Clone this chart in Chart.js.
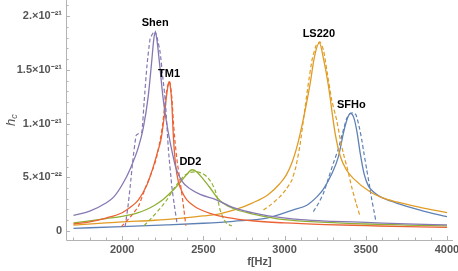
<!DOCTYPE html>
<html>
<head>
<meta charset="utf-8">
<script src="https://cdn.jsdelivr.net/npm/chart.js@4.4.1/dist/chart.umd.min.js"></script>
<style>
    html, body { margin: 0; padding: 0; background: #fff; }
    #wrap { width: 458px; height: 271px; }
</style>
</head>
<body>
<div id="wrap"><canvas id="hcChart"></canvas></div>
<script>
// h_c in units of 1e-22, frequency in Hz
const shenFitF = [1700, 1800, 1900, 1950, 2000, 2050, 2100, 2130, 2160, 2180, 2195, 2203, 2212, 2230, 2250, 2270, 2300, 2330, 2370, 2420, 2480, 2580, 2680, 2800, 2900, 3100, 3300, 3500, 3750, 4000];
const shenFitH = [1.45, 1.85, 2.6, 3.2, 4.3, 5.8, 7.8, 9.6, 12.5, 15.5, 17.9, 18.5, 18.0, 15.6, 12.6, 10.4, 7.9, 5.9, 4.6, 3.9, 3.4, 2.9, 2.2, 1.7, 1.4, 1.05, 0.9, 0.8, 0.66, 0.56];
const shenDataF = [2018, 2035, 2049, 2065, 2086, 2105, 2121, 2135, 2152, 2172, 2193, 2203, 2218, 2234, 2250, 2265, 2285, 2306, 2320, 2337];
const shenDataH = [0.4, 2.2, 4.1, 6.5, 8.9, 9.1, 9.2, 12.0, 15.3, 17.9, 18.5, 18.6, 17.8, 16.6, 14.3, 12.2, 7.5, 4.1, 2.5, 0.8];

const tm1FitF = [1700, 1800, 1900, 2000, 2050, 2100, 2150, 2190, 2215, 2240, 2260, 2275, 2283, 2289, 2296, 2305, 2316, 2330, 2346, 2370, 2398, 2440, 2480, 2550, 2650, 2800, 3000, 3250, 3500, 3750, 4000];
const tm1FitH = [0.65, 0.85, 1.2, 1.7, 2.2, 2.9, 4.2, 5.9, 7.2, 8.6, 10.8, 12.8, 13.6, 13.9, 13.5, 12.0, 8.6, 6.0, 4.6, 3.6, 2.9, 2.35, 2.0, 1.6, 1.25, 0.95, 0.75, 0.6, 0.5, 0.4, 0.34];
const tm1DataF = [1995, 2050, 2100, 2145, 2180, 2208, 2234, 2250, 2265, 2280, 2293, 2306, 2316, 2326, 2340, 2357, 2380, 2392];
const tm1DataH = [0.4, 1.3, 2.3, 4.1, 5.4, 6.6, 8.5, 10.0, 12.2, 13.5, 13.9, 12.4, 10.0, 8.2, 6.3, 4.6, 2.0, 0.5];

const dd2FitF = [1700, 1800, 1900, 2000, 2100, 2150, 2200, 2250, 2300, 2350, 2400, 2429, 2460, 2500, 2542, 2580, 2620, 2700, 2800, 3000, 3250, 3500, 3750, 4000];
const dd2FitH = [0.75, 0.95, 1.15, 1.35, 1.7, 2.0, 2.4, 2.9, 3.6, 4.4, 5.3, 5.7, 5.5, 4.8, 4.0, 3.2, 2.6, 2.0, 1.6, 1.05, 0.8, 0.65, 0.55, 0.47];
const dd2DataF = [2135, 2180, 2234, 2280, 2316, 2350, 2385, 2420, 2460, 2495, 2522, 2550, 2572, 2590, 2603, 2625, 2644, 2675];
const dd2DataH = [0.5, 1.2, 2.1, 3.0, 3.9, 4.6, 5.2, 5.45, 5.5, 5.35, 5.05, 4.5, 3.8, 2.8, 1.95, 1.1, 0.7, 0.46];

const ls220FitF = [1700, 1900, 2000, 2200, 2400, 2500, 2600, 2700, 2800, 2900, 2970, 3010, 3044, 3070, 3095, 3130, 3157, 3185, 3214, 3240, 3270, 3311, 3342, 3380, 3423, 3526, 3600, 3690, 3834, 4000];
const ls220FitH = [0.55, 0.75, 0.85, 1.0, 1.25, 1.4, 1.6, 2.0, 2.6, 3.4, 4.4, 5.2, 6.3, 7.5, 9.0, 11.5, 13.7, 16.3, 17.5, 16.0, 13.5, 9.1, 7.0, 5.7, 4.9, 3.65, 3.1, 2.7, 2.2, 1.7];
const ls220DataF = [2870, 2920, 2972, 3010, 3044, 3070, 3095, 3120, 3145, 3170, 3195, 3218, 3240, 3265, 3290, 3321, 3342, 3362, 3390, 3413, 3440, 3465];
const ls220DataH = [1.95, 2.5, 3.2, 3.9, 4.7, 6.0, 8.0, 10.8, 13.6, 16.0, 17.3, 17.6, 16.8, 14.5, 12.2, 10.3, 8.6, 7.2, 5.6, 4.1, 2.6, 1.33];

const sfhoFitF = [1700, 2000, 2275, 2500, 2683, 2890, 2972, 3050, 3137, 3200, 3239, 3290, 3331, 3365, 3390, 3405, 3425, 3445, 3465, 3490, 3516, 3550, 3588, 3690, 3834, 4000];
const sfhoFitH = [0.25, 0.4, 0.56, 0.72, 0.9, 1.2, 1.55, 1.95, 2.4, 3.2, 3.9, 5.3, 6.9, 9.3, 10.6, 10.95, 10.6, 9.3, 7.3, 5.3, 4.2, 3.6, 3.2, 2.6, 1.95, 1.33];
const sfhoDataF = [3177, 3210, 3239, 3270, 3300, 3330, 3360, 3383, 3405, 3423, 3440, 3458, 3475, 3490, 3506, 3522, 3537, 3550, 3561];
const sfhoDataH = [1.8, 2.6, 3.5, 4.9, 6.3, 7.6, 9.3, 10.5, 10.95, 11.0, 10.8, 9.8, 8.5, 7.1, 5.7, 4.3, 2.9, 1.9, 1.0];

const eosNames = ['Shen', 'TM1', 'DD2', 'LS220', 'SFHo'];
const xTickValues = [2000, 2500, 3000, 3500, 4000];
const yTickValues = [0, 5, 10, 15, 20];
const yTickLabels = ['0', '5.\u00d710\u207b\u00b2\u00b2', '1.\u00d710\u207b\u00b2\u00b9', '1.5\u00d710\u207b\u00b2\u00b9', '2.\u00d710\u207b\u00b2\u00b9'];

const colors = {
    Shen: '#8778b3',
    TM1: '#eb6235',
    DD2: '#8fb032',
    LS220: '#e19c24',
    SFHo: '#5e81b5'
};

// where the name sits (f, h) above each peak
const labelAt = {
    Shen: [2203, 19.4],
    TM1: [2289, 14.6],
    DD2: [2420, 6.45],
    LS220: [3211, 18.3],
    SFHo: [3411, 11.75]
};

function pts(f, h) {
    return f.map((v, i) => ({ x: v, y: h[i] }));
}

const curves = [
    ['Shen', shenFitF, shenFitH, shenDataF, shenDataH],
    ['TM1', tm1FitF, tm1FitH, tm1DataF, tm1DataH],
    ['DD2', dd2FitF, dd2FitH, dd2DataF, dd2DataH],
    ['LS220', ls220FitF, ls220FitH, ls220DataF, ls220DataH],
    ['SFHo', sfhoFitF, sfhoFitH, sfhoDataF, sfhoDataH]
];

const datasets = [];
curves.forEach(c => {
    datasets.push({
        label: c[0] + ' fit',
        data: pts(c[1], c[2]),
        showLine: true,
        borderColor: colors[c[0]],
        borderWidth: 1.3,
        pointRadius: 0,
        cubicInterpolationMode: 'monotone',
        fill: false
    });
    datasets.push({
        label: c[0],
        data: pts(c[3], c[4]),
        showLine: true,
        borderColor: colors[c[0]],
        borderWidth: 1.2,
        borderDash: [4, 2.5],
        pointRadius: 0,
        tension: 0.15,
        fill: false
    });
});

const decor = {
    id: 'decor',
    beforeDatasetsDraw(chart) {
        const ctx = chart.ctx;
        const a = chart.chartArea;
        const xs = chart.scales.x, ys = chart.scales.y;
        ctx.save();
        ctx.strokeStyle = '#b3b3b3';
        ctx.lineWidth = 1;
        ctx.beginPath();
        ctx.moveTo(a.left + 0.5, a.top);
        ctx.lineTo(a.left + 0.5, a.bottom + 0.5);
        ctx.lineTo(a.right, a.bottom + 0.5);
        ctx.stroke();
        ctx.beginPath();
        for (let f = 1700; f <= 4000; f += 100) {
            const px = Math.round(xs.getPixelForValue(f)) + 0.5;
            const len = f % 500 === 0 ? 4 : 2.5;
            ctx.moveTo(px, a.bottom);
            ctx.lineTo(px, a.bottom - len);
        }
        for (let h = 0; h <= 21; h += 1) {
            const py = Math.round(ys.getPixelForValue(h)) + 0.5;
            const len = h % 5 === 0 ? 4 : 2.5;
            ctx.moveTo(a.left, py);
            ctx.lineTo(a.left + len, py);
        }
        ctx.stroke();
        ctx.restore();
    },
    afterDraw(chart) {
        const ctx = chart.ctx;
        const xs = chart.scales.x, ys = chart.scales.y;
        ctx.save();
        ctx.fillStyle = '#000';
        ctx.font = 'bold 11px "Liberation Sans", Arial, sans-serif';
        ctx.textAlign = 'center';
        ctx.textBaseline = 'middle';
        eosNames.forEach(n => {
            const p = labelAt[n];
            ctx.fillText(n, xs.getPixelForValue(p[0]), ys.getPixelForValue(p[1]));
        });
        // y axis title h_c
        ctx.translate(11, (chart.chartArea.top + chart.chartArea.bottom) / 2);
        ctx.rotate(-Math.PI / 2);
        ctx.fillStyle = '#555';
        ctx.textAlign = 'left';
        ctx.textBaseline = 'middle';
        ctx.font = 'italic 13px "Liberation Sans", Arial, sans-serif';
        const hw = ctx.measureText('h').width;
        ctx.fillText('h', -6, 0);
        ctx.font = 'italic 9px "Liberation Sans", Arial, sans-serif';
        ctx.fillText('c', -6 + hw, 3);
        ctx.restore();
    }
};

new Chart(document.getElementById('hcChart'), {
    type: 'scatter',
    data: { datasets: datasets },
    options: {
        responsive: true,
        maintainAspectRatio: false,
        animation: false,
        layout: { padding: { left: 0, right: 5, top: 0, bottom: 0 } },
        plugins: {
            legend: { display: false },
            tooltip: { enabled: false }
        },
        scales: {
            x: {
                type: 'linear',
                min: 1654,
                max: 4037,
                afterBuildTicks: s => { s.ticks = xTickValues.map(v => ({ value: v })); },
                afterFit: s => { s.height = 31; s.paddingLeft = 0; s.paddingRight = 0; },
                grid: { display: false, drawTicks: false },
                border: { display: false },
                ticks: {
                    color: '#555',
                    font: { family: '"Liberation Sans", Arial, sans-serif', size: 11, weight: 'bold' },
                    padding: 3,
                    maxRotation: 0,
                    autoSkip: false,
                    callback: v => String(v)
                },
                title: {
                    display: true,
                    text: 'f[Hz]',
                    color: '#555',
                    font: { family: '"Liberation Sans", Arial, sans-serif', size: 11, weight: 'bold' },
                    padding: { top: 0, bottom: 2 }
                }
            },
            y: {
                type: 'linear',
                min: -0.84,
                max: 21.5,
                afterBuildTicks: s => { s.ticks = yTickValues.map(v => ({ value: v })); },
                afterFit: s => { s.width = 66; s.paddingTop = 0; s.paddingBottom = 0; },
                grid: { display: false, drawTicks: false },
                border: { display: false },
                ticks: {
                    color: '#555',
                    font: { family: '"Liberation Sans", Arial, sans-serif', size: 11, weight: 'bold' },
                    padding: 4,
                    autoSkip: false,
                    callback: v => {
                        const i = yTickValues.indexOf(v);
                        return i >= 0 ? yTickLabels[i] : '';
                    }
                }
            }
        }
    },
    plugins: [decor]
});
</script>
</body>
</html>
